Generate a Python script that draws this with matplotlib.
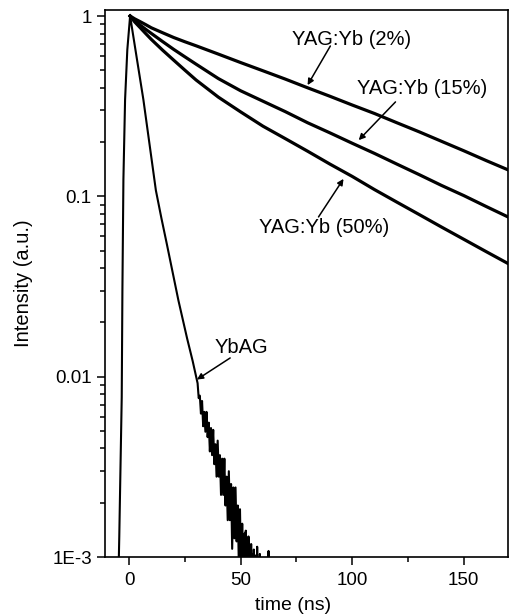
import numpy as np
import matplotlib
matplotlib.use('Agg')
import matplotlib.pyplot as plt
from matplotlib.ticker import FixedLocator, FixedFormatter, MultipleLocator, NullFormatter

plt.rcParams['font.family'] = ['Liberation Sans', 'DejaVu Sans']

# ── 数据 ────────────────────────────────────────────────────
# 上升沿（只画一次，峰值在 t≈0.45 ns）
rise_t = [-4.75, -4.4, -4.0, -3.3, -3.0, -2.55, -1.8, -0.8, 0.45]
rise_v = [0.0008, 0.0013, 0.0025, 0.0077, 0.03, 0.124, 0.344, 0.65, 1.0]

# YAG:Yb 衰减
yag_t = [0.45, 2.5, 5, 7.5, 10, 15, 20, 25, 30, 40, 50, 60, 70, 80, 90,
         100, 110, 120, 130, 140, 150, 160, 170]
yag2_v = [1.0, 0.965, 0.93, 0.895, 0.86, 0.808, 0.76, 0.72, 0.684, 0.615,
          0.552, 0.497, 0.447, 0.40, 0.359, 0.321, 0.288, 0.256, 0.228,
          0.202, 0.179, 0.158, 0.140]
yag15_v = [1.0, 0.945, 0.89, 0.843, 0.80, 0.722, 0.653, 0.594, 0.541, 0.45,
           0.385, 0.337, 0.295, 0.256, 0.225, 0.197, 0.173, 0.151, 0.132,
           0.115, 0.101, 0.0879, 0.0767]
yag50_v = [1.0, 0.928, 0.861, 0.798, 0.741, 0.647, 0.569, 0.501, 0.442, 0.355,
           0.294, 0.245, 0.209, 0.178, 0.151, 0.129, 0.109, 0.0929, 0.0793,
           0.0676, 0.0578, 0.0494, 0.0423]

# YbAG 衰减（尾部含噪声）
ybag_t = [3.5, 6.4, 9.0, 12.0, 14.5, 16.9, 19.5, 22.1, 26.0, 28.5,
          30.7, 31.2, 31.7, 32.2, 32.7, 33.2, 33.7, 34.2, 34.7, 35.2,
          35.7, 36.2, 36.7, 37.2, 37.7, 38.2, 38.7, 39.2, 39.7, 40.2,
          40.7, 41.2, 41.7, 42.2, 42.7, 43.2, 43.7, 44.2, 44.7, 45.2,
          45.7, 46.2, 46.7, 47.2, 47.7, 48.2, 48.7, 49.2, 49.7, 50.2,
          50.7, 51.2, 51.7,
          52.0, 52.3, 52.6, 52.9, 53.2, 53.5, 53.8, 54.1, 54.4, 54.7,
          55.0, 55.3, 55.6, 55.9, 56.2, 56.5,
          57.2, 57.4, 57.6, 58.4, 58.6, 58.8, 62.3, 62.5, 62.7]
ybag_v = [0.578, 0.344, 0.201, 0.108, 0.0755, 0.0545, 0.038, 0.0265, 0.0163, 0.0122,
          0.0092, 0.0076, 0.00785, 0.00624, 0.00733, 0.00531, 0.00638, 0.00495, 0.00638, 0.00462,
          0.00556, 0.00385, 0.00519, 0.00367, 0.00507, 0.00327, 0.00422, 0.00279, 0.00442, 0.00279,
          0.00367, 0.00221, 0.00351, 0.00221, 0.00351, 0.00193, 0.00279, 0.0016, 0.00299, 0.0016,
          0.00254, 0.00111, 0.00243, 0.00127, 0.00243, 0.00122, 0.00193, 0.00088, 0.00184, 0.0008,
          0.00153, 0.0007, 0.00135,
          0.0007, 0.0014, 0.0006, 0.00125, 0.0006, 0.0013, 0.0006, 0.0011, 0.0005, 0.00118,
          0.0005, 0.00104, 0.0005, 0.0011, 0.0005, 0.00102,
          0.0005, 0.00114, 0.0005, 0.0005, 0.00104, 0.0005, 0.0005, 0.00108, 0.0005]

y_ticks = [1e-3, 0.01, 0.1, 1]
y_ticklabels = ['1E-3', '0.01', '0.1', '1']
x_ticks = [0, 50, 100, 150]

# 标注：(文字, 文字位置, 箭尾, 箭头)
labels = [
    ('YAG:Yb (2%)',  (99.9, 0.743), (90.2, 0.682), (80.0, 0.414)),
    ('YAG:Yb (15%)', (131.3, 0.394), (119.4, 0.334), (102.9, 0.205)),
    ('YAG:Yb (50%)', (87.2, 0.067), (84.9, 0.0769), (96.1, 0.125)),
    ('YbAG',         (50.2, 0.0146), (45.3, 0.0127), (30.4, 0.00964)),
]

# ── 绘图 ─────────────────────────────────────────────────────────
W, H = 509, 616
fig = plt.figure(figsize=(W / 100, H / 100), dpi=100)
ax = fig.add_axes([105 / W, (H - 557) / H, (507.5 - 105) / W, (557 - 10) / H])

for vals in [yag2_v, yag15_v, yag50_v]:
    ax.plot(yag_t, vals, color='black', lw=2.3, solid_joinstyle='round')
ax.plot(rise_t + ybag_t, rise_v + ybag_v, color='black', lw=1.5)

ax.set_yscale('log')
ax.set_xlim(-10.8, 169.6)
ax.set_ylim(1e-3, 1.08)

ax.yaxis.set_major_locator(FixedLocator(y_ticks))
ax.yaxis.set_major_formatter(FixedFormatter(y_ticklabels))
ax.yaxis.set_minor_locator(FixedLocator(
    [m * 10.0 ** e for e in range(-3, 0) for m in range(2, 10)]))
ax.yaxis.set_minor_formatter(NullFormatter())
ax.xaxis.set_major_locator(FixedLocator(x_ticks))
ax.xaxis.set_minor_locator(MultipleLocator(25))

for s in ax.spines.values():
    s.set_linewidth(1.2)
ax.tick_params(which='both', direction='out', width=1.1, labelsize=13.5)
ax.tick_params(which='major', length=6)
ax.tick_params(which='minor', length=3.5)
ax.tick_params(axis='y', which='major', pad=3.5)
ax.tick_params(axis='x', which='major', pad=4.5)

ax.set_xlabel('time (ns)', fontsize=14)
ax.set_ylabel('Intensity (a.u.)', fontsize=14.5)
ax.xaxis.set_label_coords(0.466, -0.074)
ax.xaxis.label.set_va('top')
ax.yaxis.set_label_coords(-0.179, 0.5)

for text, tpos, tail, head in labels:
    ax.text(tpos[0], tpos[1], text, fontsize=14.5, ha='center', va='center')
    ax.annotate('', xy=head, xytext=tail,
                arrowprops=dict(arrowstyle='-|>', color='black', lw=1.1,
                                mutation_scale=9, shrinkA=0, shrinkB=0))

fig.savefig('out.png', dpi=100)
